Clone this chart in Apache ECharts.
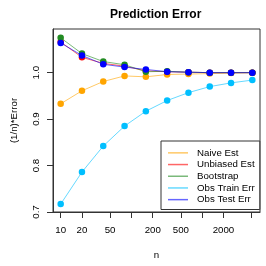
<!DOCTYPE html>
<html>
<head>
<meta charset="utf-8">
<script src="https://cdn.jsdelivr.net/npm/echarts@6/dist/echarts.min.js"></script>
<style>html,body{margin:0;padding:0;background:#fff;}#c{width:266px;height:266px;}</style>
</head>
<body>
<div id="c"></div>
<script>
const nValues = [10, 20, 40, 80, 160, 320, 640, 1280, 2560, 5120];
const naiveEst = [0.933, 0.961, 0.981, 0.993, 0.991, 0.996, 0.997, 0.998, 0.999, 1.000];
const unbiasedEst = [1.066, 1.033, 1.020, 1.014, 1.004, 1.002, 1.001, 1.000, 1.000, 1.000];
const bootstrap = [1.075, 1.041, 1.024, 1.017, 1.002, 1.003, 1.001, 1.000, 1.000, 1.000];
const obsTrainErr = [0.717, 0.786, 0.842, 0.885, 0.917, 0.940, 0.957, 0.970, 0.978, 0.984];
const obsTestErr = [1.064, 1.037, 1.018, 1.012, 1.007, 1.002, 1.001, 1.000, 1.000, 1.000];
const xTickValues = [10, 20, 50, 100, 200, 500, 1000, 2000, 5000];
const xLabelValues = [10, 20, 50, 200, 500, 2000];
const yTickValues = [0.7, 0.8, 0.9, 1.0];
const seriesNames = ['Naive Est', 'Unbiased Est', 'Bootstrap', 'Obs Train Err', 'Obs Test Err'];
const seriesColors = ['#FFA500', '#FF0000', '#228B22', '#00BFFF', '#0000FF'];
const lineColors = ['rgba(255,165,0,0.6)', 'rgba(255,0,0,0.6)', 'rgba(34,139,34,0.6)', 'rgba(0,191,255,0.6)', 'rgba(0,0,255,0.6)'];
const seriesValues = [naiveEst, unbiasedEst, bootstrap, obsTrainErr, obsTestErr];

const FONT = 'Liberation Sans, Arial, Helvetica, sans-serif';
const chart = echarts.init(document.getElementById('c'), null, {renderer: 'canvas'});
const option = {
  animation: false,
  backgroundColor: '#fff',
  title: {
    text: 'Prediction Error',
    left: 110, top: 9, padding: 0,
    textStyle: {fontFamily: FONT, fontSize: 12, fontWeight: 'bold', color: '#000'}
  },
  grid: {left: 53, right: 6, top: 29, bottom: 54, show: true, borderColor: '#333', borderWidth: 1, backgroundColor: 'transparent', containLabel: false},
  legend: {
    orient: 'vertical',
    left: 161, top: 141,
    padding: [6, 5, 4, 7],
    itemGap: 0,
    itemWidth: 20, itemHeight: 1.5,
    backgroundColor: '#fff',
    borderColor: '#333', borderWidth: 1, borderRadius: 0,
    textStyle: {fontFamily: FONT, fontSize: 9.7, color: '#000', lineHeight: 11.7, padding: [0, 0, 0, 4]},
    data: seriesNames.map((nm, i) => ({name: nm, icon: 'rect', itemStyle: {color: lineColors[i]}}))
  },
  xAxis: {
    type: 'log', logBase: 10, min: 7.79, max: 6571,
    name: 'n', nameLocation: 'middle', nameGap: 38,
    nameTextStyle: {fontFamily: FONT, fontSize: 9.7, color: '#000'},
    axisLine: {show: true, lineStyle: {color: '#333'}},
    axisTick: {show: true, length: 6, lineStyle: {color: '#333'}, customValues: xTickValues},
    axisLabel: {fontFamily: FONT, fontSize: 9.7, color: '#000', margin: 13, customValues: xLabelValues, formatter: v => String(v)},
    splitLine: {show: false}, minorTick: {show: false}
  },
  yAxis: {
    type: 'value', min: 0.7, max: 1.094,
    name: '(1/n)*Error', nameLocation: 'middle', nameGap: 34,
    nameTextStyle: {fontFamily: FONT, fontSize: 9.7, color: '#000'},
    axisLine: {show: true, lineStyle: {color: '#333'}},
    axisTick: {show: true, length: 6, lineStyle: {color: '#333'}, customValues: yTickValues},
    axisLabel: {fontFamily: FONT, fontSize: 9.7, color: '#000', margin: 12, rotate: 90, customValues: yTickValues, formatter: v => v.toFixed(1)},
    splitLine: {show: false}
  },
  series: seriesNames.map((nm, i) => ({
    name: nm, type: 'line',
    data: nValues.map((n, j) => [n, seriesValues[i][j]]),
    symbol: 'circle', symbolSize: 6.5,
    itemStyle: {color: seriesColors[i]},
    lineStyle: {color: lineColors[i], width: 1},
    z: 2 + i
  }))
};
chart.setOption(option);
</script>
</body>
</html>
